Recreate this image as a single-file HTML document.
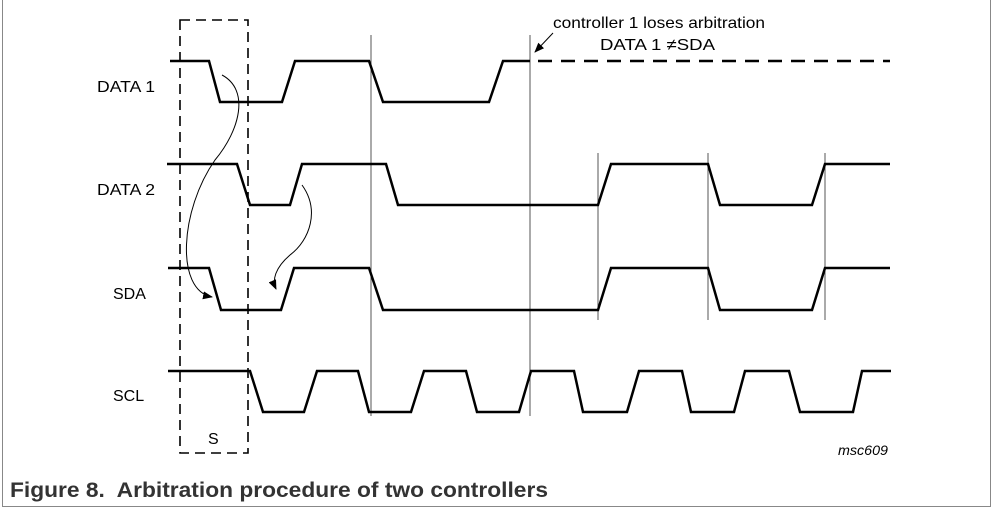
<!DOCTYPE html>
<html><head><style>
html,body{margin:0;padding:0;background:#fff;}
body{width:994px;height:509px;overflow:hidden;position:relative;font-family:"Liberation Sans",sans-serif;}
</style></head><body>
<svg width="994" height="509" style="position:absolute;left:0;top:0" font-family="Liberation Sans, sans-serif">
<defs><marker id="ah" markerWidth="10" markerHeight="8" refX="9" refY="4" orient="auto" markerUnits="userSpaceOnUse"><path d="M0,0 L10,4 L0,8 Z" fill="#000"/></marker></defs>
<path d="M2.5,0 V506.5 H990.5 V0" fill="none" stroke="#888" stroke-width="1"/>
<g stroke="#555" stroke-width="1">
<line x1="371" y1="35" x2="371" y2="416"/><line x1="530" y1="35" x2="530" y2="416"/>
<line x1="598" y1="153" x2="598" y2="320"/><line x1="708" y1="153" x2="708" y2="320"/><line x1="825" y1="153" x2="825" y2="320"/>
</g>
<rect x="180" y="20" width="68" height="433" fill="none" stroke="#000" stroke-width="1.6" stroke-dasharray="10,6"/>
<g fill="none" stroke="#000" stroke-width="2.5" stroke-linejoin="miter">
<polyline points="170,61 209,61 220,102 282,102 295,61 369,61 383,102 489,102 503,61 530,61"/>
<line x1="538" y1="61" x2="890" y2="61" stroke-dasharray="14,9"/>
<polyline points="167,164 237,164 250,205 290,205 302,164 386,164 398,205 598,205 611,164 708,164 720,205 812,205 825,164 890,164"/>
<polyline points="168,268 209,268 221,310 281,310 294,268 369,268 383,310 598,310 611,268 708,268 720,310 812,310 825,268 890,268"/>
<polyline points="168,371 250,371 263,412 304,412 317,371 358,371 369,412 411,412 424,371 466,371 477,412 519,412 531,371 574,371 583,412 627,412 639,371 682,371 691,412 734,412 745,371 789,371 800,412 853,412 862,371 891,371"/>
</g>
<g fill="none" stroke="#000" stroke-width="1">
<path d="M222,75 C250,90 240,130 215,160 C180,210 175,290 212,297" marker-end="url(#ah)"/>
<path d="M302,185 C320,210 310,240 290,255 C275,268 272,280 276,289" marker-end="url(#ah)"/>
<path d="M553,33 L535,52" marker-end="url(#ah)"/>
</g>
<g font-size="16" fill="#000">
<text x="97" y="92" textLength="58" lengthAdjust="spacingAndGlyphs">DATA 1</text>
<text x="97" y="195" textLength="58" lengthAdjust="spacingAndGlyphs">DATA 2</text>
<text x="113" y="299">SDA</text><text x="113" y="401">SCL</text>
<text x="208" y="444">S</text>
<text x="553" y="28" textLength="212" lengthAdjust="spacingAndGlyphs">controller 1 loses arbitration</text>
<text x="600" y="50" textLength="115" lengthAdjust="spacingAndGlyphs">DATA 1 ≠SDA</text>
<text x="838" y="455" font-style="italic" font-size="14" textLength="50" lengthAdjust="spacingAndGlyphs">msc609</text>
</g>
<text x="10" y="497" font-size="21" font-weight="bold" fill="#333" textLength="538" lengthAdjust="spacingAndGlyphs">Figure 8.&#160; Arbitration procedure of two controllers</text>
</svg>
</body></html>
